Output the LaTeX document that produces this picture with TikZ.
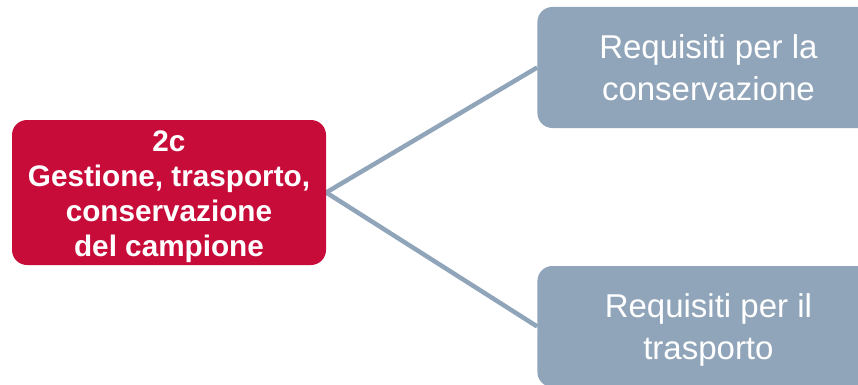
\documentclass[tikz,border=0pt]{standalone}
\usepackage{fontspec}
\setmainfont{Liberation Sans}
\usetikzlibrary{positioning, backgrounds}

\definecolor{boxred}{HTML}{C80C3A}
\definecolor{boxgray}{HTML}{91A5BA}

\begin{document}
\begin{tikzpicture}[
		mainbox/.style={fill=boxred, text=white, rounded corners=15pt, align=center,
			minimum width=314pt, minimum height=145pt, inner sep=0pt,
			font=\fontsize{29.7}{35}\selectfont\bfseries},
		subbox/.style={fill=boxgray, text=white, rounded corners=15pt, align=center,
			minimum width=342pt, minimum height=121pt, inner sep=0pt,
			font=\fontsize{33}{42}\selectfont},
		link/.style={draw=boxgray, line width=4.5pt}
	]
	\useasboundingbox (0,0) rectangle (858pt,384pt);
	\clip (0,0) rectangle (858pt,384pt);
	
	\node[mainbox] (main) at (169pt,191.5pt) {\rule{0pt}{28.3pt}2c\\Gestione, trasporto,\hspace*{9pt}\\conservazione\hspace*{9pt}\\del campione};
	
	\node[subbox, right=211pt of main, yshift=125pt] (cons) {Requisiti per la\\conservazione};
	\node[subbox, right=211pt of main, yshift=-134pt] (trasp) {\rule{0pt}{30pt}Requisiti per il\\trasporto};
	
	\begin{scope}[on background layer]
		\draw[link] (main.east) -- (cons.west);
		\draw[link] (main.east) -- (trasp.west);
	\end{scope}
\end{tikzpicture}
\end{document}
